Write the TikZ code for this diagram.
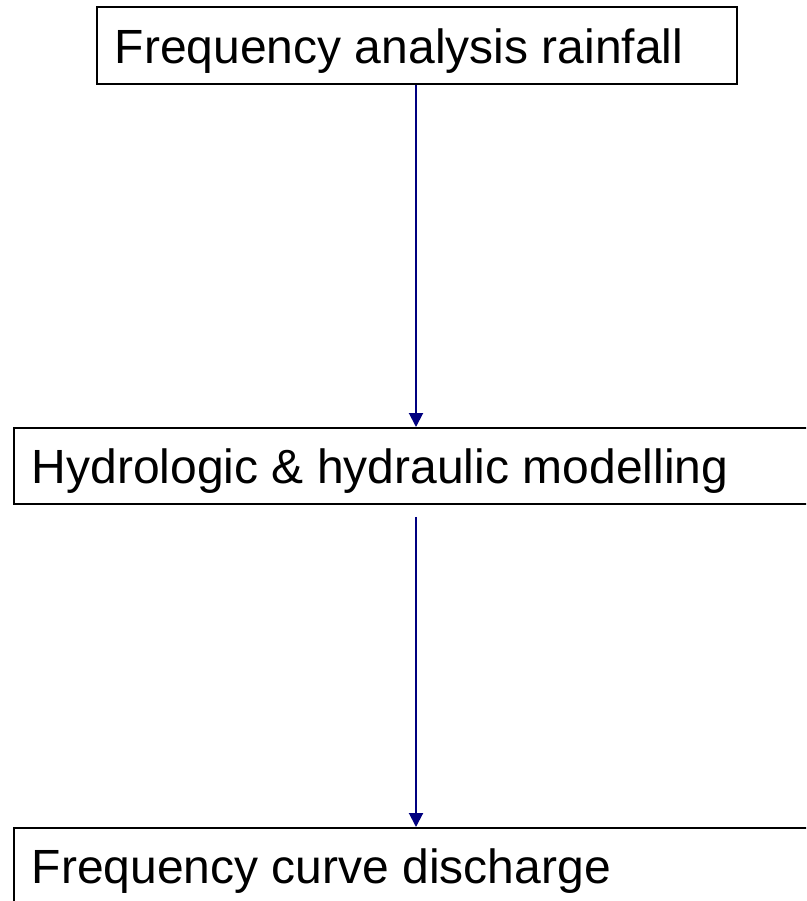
\documentclass[tikz,border=0pt]{standalone}
\usepackage{fontspec}
\setmainfont{Liberation Sans}
\usetikzlibrary{arrows.meta}
\definecolor{arrowblue}{RGB}{0,0,128}
\begin{document}
\begin{tikzpicture}[x=1pt,y=-1pt,
  box/.style={draw=black,line width=1.8pt,fill=white,inner sep=0pt,anchor=north west,
    text depth=0pt,font=\fontsize{48}{56}\selectfont},
  flow/.style={draw=arrowblue,line width=2pt,-{Triangle[length=14pt,width=14pt]}}]
\useasboundingbox (0,0) rectangle (806,901);
\clip (0,0) rectangle (806,901);
\node[box,minimum height=77pt,text height=37pt] (b1) at (96,6) {\makebox[640pt][l]{\hspace*{18pt}Frequency analysis rainfall}};
\node[box,minimum height=76pt,text height=36pt] (b2) at (13,427) {\makebox[810pt][l]{\hspace*{18pt}Hydrologic \& hydraulic modelling}};
\node[box,minimum height=90pt,text height=22pt] (b3) at (13,827) {\makebox[810pt][l]{\hspace*{18pt}Frequency curve discharge}};
\draw[flow] (b1.south -| 416,0) -- (b2.north -| 416,0);
\draw[flow] ([yshift=-12pt]b2.south -| 416,0) -- (b3.north -| 416,0);
\end{tikzpicture}
\end{document}
